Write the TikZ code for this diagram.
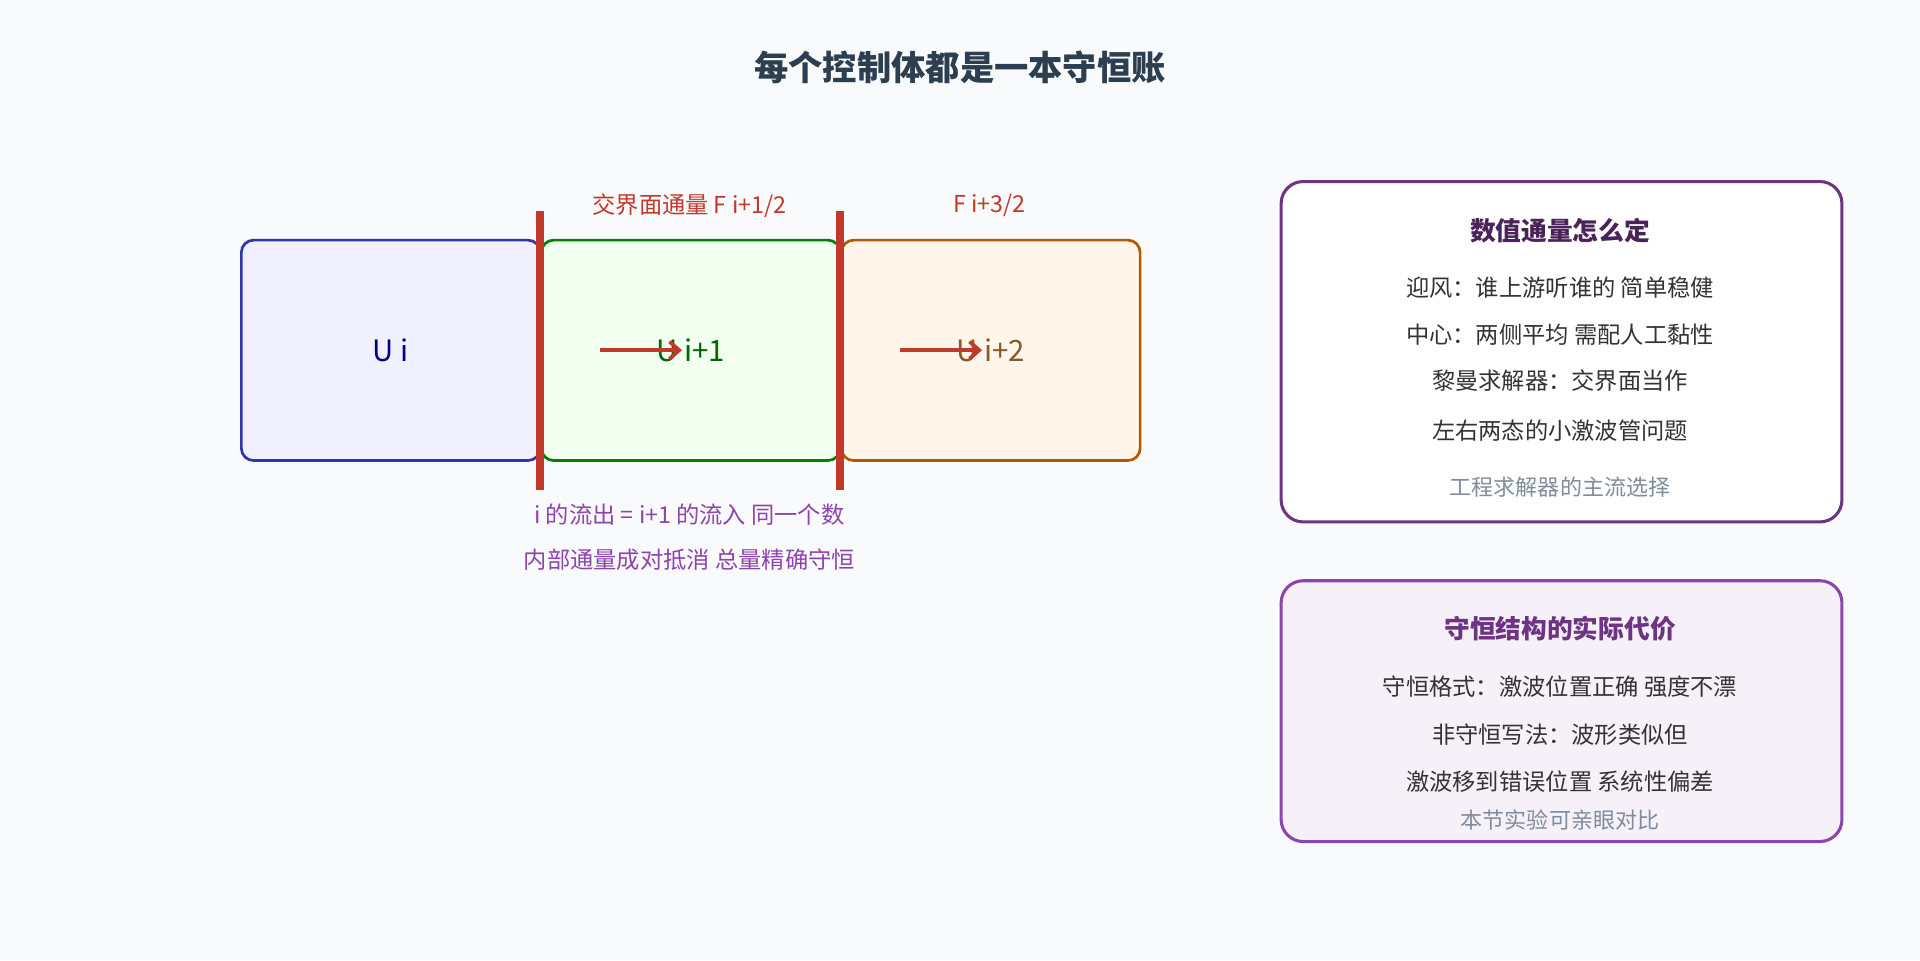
\documentclass[tikz,border=0pt]{standalone}
\usepackage{fontspec}
\setmainfont{Noto Sans CJK SC}
\usetikzlibrary{arrows.meta}
\definecolor{bg}{HTML}{F8FAFC}
\definecolor{ttl}{HTML}{2C3E50}
\definecolor{red1}{HTML}{C0392B}
\definecolor{pur}{HTML}{8E44AD}
\definecolor{pur2}{HTML}{6C3483}
\definecolor{pur3}{HTML}{4A235A}
\definecolor{gry}{HTML}{7F8C9D}
\definecolor{txt}{HTML}{333333}
\tikzset{x=1pt,y=-1pt,
 cell/.style={draw,line width=2.2pt,rounded corners=10pt,minimum width=244pt,minimum height=180pt,anchor=north west,font=\fontsize{24}{28}\selectfont},
 info/.style={draw,line width=2.5pt,rounded corners=18pt,minimum width=458pt,anchor=north west},
 body/.style={font=\fontsize{19}{22}\selectfont,text=txt},
 note/.style={font=\fontsize{18}{22}\selectfont,text=gry},
 bar/.style={draw=red1,line width=6pt},
 flow/.style={draw=red1,line width=3pt,-{Straight Barb[length=8pt,width=14pt]}}}
\begin{document}
\begin{tikzpicture}
\fill[bg] (0,0) rectangle (1568,784);
\useasboundingbox (0,0) rectangle (1568,784);
\node[font=\fontsize{28}{32}\selectfont\bfseries,text=ttl] (title) at (784,55) {每个控制体都是一本守恒账};
\node[cell,draw=blue!60!black!80,fill=blue!6,text=blue!50!black,minimum height=180pt] (c1) at (196,195) {U i};
\node[cell,draw=green!50!black,fill=green!6,text=green!40!black] (c2) at (441,195) {U i+1};
\node[cell,draw=orange!70!black,fill=orange!8,text=brown!70!black] (c3) at (686,195) {U i+2};
\coordinate (b1t) at (441,172); \coordinate (b1b) at (441,400);
\coordinate (b2t) at (686,172); \coordinate (b2b) at (686,400);
\draw[bar] (b1t) -- (b1b);
\draw[bar] (b2t) -- (b2b);
\coordinate (a1s) at (490,286); \coordinate (a1e) at (557,286);
\coordinate (a2s) at (735,286); \coordinate (a2e) at (802,286);
\draw[flow] (a1s) -- (a1e);
\draw[flow] (a2s) -- (a2e);
\node[font=\fontsize{19}{22}\selectfont,text=red1] (f1) at (563,168) {交界面通量 F i+1/2};
\node[font=\fontsize{19}{22}\selectfont,text=red1] (f2) at (808,168) {F i+3/2};
\node[font=\fontsize{19}{22}\selectfont,text=pur] (p1) at (563,420) {i 的流出 = i+1 的流入 同一个数};
\node[font=\fontsize{19}{22}\selectfont,text=pur] (p2) at (563,457) {内部通量成对抵消 总量精确守恒};
\node[info,draw=pur2,fill=white,minimum height=278pt] (r1) at (1045,147) {};
\node[font=\fontsize{21}{24}\selectfont\bfseries,text=pur3] (r1t) at (1274,188) {数值通量怎么定};
\node[body] (r1a) at (1274,235) {迎风：谁上游听谁的 简单稳健};
\node[body] (r1b) at (1274,273) {中心：两侧平均 需配人工黏性};
\node[body] (r1c) at (1274,311) {黎曼求解器：交界面当作};
\node[body] (r1d) at (1274,352) {左右两态的小激波管问题};
\node[note] (r1n) at (1274,398) {工程求解器的主流选择};
\node[info,draw=pur,fill=pur!8,minimum height=213pt] (r2) at (1045,473) {};
\node[font=\fontsize{21}{24}\selectfont\bfseries,text=pur2] (r2t) at (1274,513) {守恒结构的实际代价};
\node[body] (r2a) at (1274,561) {守恒格式：激波位置正确 强度不漂};
\node[body] (r2b) at (1274,600) {非守恒写法：波形类似但};
\node[body] (r2c) at (1274,638) {激波移到错误位置 系统性偏差};
\node[note] (r2n) at (1274,670) {本节实验可亲眼对比};
\end{tikzpicture}
\end{document}
